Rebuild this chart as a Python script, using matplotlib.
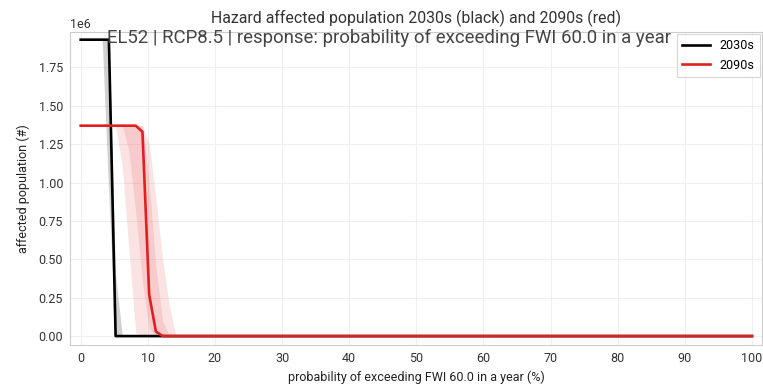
import matplotlib
matplotlib.use("Agg")
import matplotlib.pyplot as plt
import numpy as np

plt.rcParams["font.family"] = ["Roboto", "DejaVu Sans"]

# probability of exceeding FWI 60.0 in a year (%)
prob = [0, 3.2, 4.2, 5.2, 6.2, 7.2, 8.2, 9.2, 10.2, 11.2, 12.2, 13.2, 14.2, 15.2, 100]

# 2030s affected population: median and spread
pop_2030 = [1.93e6, 1.93e6, 1.93e6, 0, 0, 0, 0, 0, 0, 0, 0, 0, 0, 0, 0]
pop_2030_lo = [1.93e6, 1.93e6, 0.9e6, 0, 0, 0, 0, 0, 0, 0, 0, 0, 0, 0, 0]
pop_2030_hi = [1.93e6, 1.93e6, 1.93e6, 0.4e6, 0, 0, 0, 0, 0, 0, 0, 0, 0, 0, 0]

# 2090s affected population: median, outer and inner spread
pop_2090 = [1.37e6, 1.37e6, 1.37e6, 1.37e6, 1.37e6, 1.37e6, 1.37e6, 1.33e6,
            0.27e6, 0.03e6, 0, 0, 0, 0, 0]
pop_2090_lo = [1.37e6, 1.37e6, 1.37e6, 1.37e6, 1.1e6, 0.55e6, 0.02e6, 0,
               0, 0, 0, 0, 0, 0, 0]
pop_2090_hi = [1.37e6, 1.37e6, 1.37e6, 1.37e6, 1.37e6, 1.37e6, 1.37e6, 1.37e6,
               1.25e6, 0.9e6, 0.5e6, 0.2e6, 0, 0, 0]
pop_2090_lo2 = [1.37e6, 1.37e6, 1.37e6, 1.37e6, 1.37e6, 1.2e6, 0.8e6, 0.35e6,
                0.05e6, 0, 0, 0, 0, 0, 0]
pop_2090_hi2 = [1.37e6, 1.37e6, 1.37e6, 1.37e6, 1.37e6, 1.37e6, 1.37e6, 1.37e6,
                1.0e6, 0.45e6, 0.1e6, 0, 0, 0, 0]

labels = ["2030s", "2090s"]

fig = plt.figure(figsize=(7.63, 3.85), dpi=100)
ax = fig.add_axes([0.0917, 0.1039, 0.9070, 0.813])

red = "#e0201f"
ax.fill_between(prob, pop_2030_lo, pop_2030_hi, color="black", alpha=0.18, lw=0)
ax.fill_between(prob, pop_2090_lo, pop_2090_hi, color=red, alpha=0.12, lw=0)
ax.fill_between(prob, pop_2090_lo2, pop_2090_hi2, color=red, alpha=0.12, lw=0)
ax.plot(prob, pop_2030, color="black", lw=1.9, label=labels[0])
ax.plot(prob, pop_2090, color=red, lw=1.9, label=labels[1])

ax.set_xlim(-1.6, 101.5)
ax.set_ylim(-0.058e6, 1.98e6)
ax.set_xticks(np.arange(0, 101, 10))
ax.set_yticks(np.arange(0, 1.76e6, 0.25e6))

ax.grid(True, color="#efefef", lw=0.8)
ax.set_axisbelow(True)
for s in ax.spines.values():
    s.set_color("#cccccc")
    s.set_linewidth(0.8)
ax.tick_params(axis="both", length=0, labelsize=9, labelcolor="#333333", pad=5)
ax.yaxis.get_offset_text().set_fontsize(9)
ax.yaxis.get_offset_text().set_color("#333333")

ax.set_xlabel("probability of exceeding FWI 60.0 in a year (%)", fontsize=9,
              color="#222222", labelpad=4)
ax.set_ylabel("affected population (#)", fontsize=9, color="#222222", labelpad=6)
ax.set_title("Hazard affected population 2030s (black) and 2090s (red)",
             fontsize=11.4, color="#333333", pad=6.5)
fig.text(0.51, 1 - 28.5 / 385, "EL52 | RCP8.5 | response: probability of exceeding FWI 60.0 in a year",
         ha="center", va="top", fontsize=13.4, color="#444444")

leg = ax.legend(loc="upper right", fontsize=9, frameon=True, borderaxespad=0.2,
                handlelength=2.2, fancybox=False)
leg.get_frame().set_edgecolor("#cccccc")
leg.get_frame().set_linewidth(0.8)

fig.savefig("out.png", dpi=100)
